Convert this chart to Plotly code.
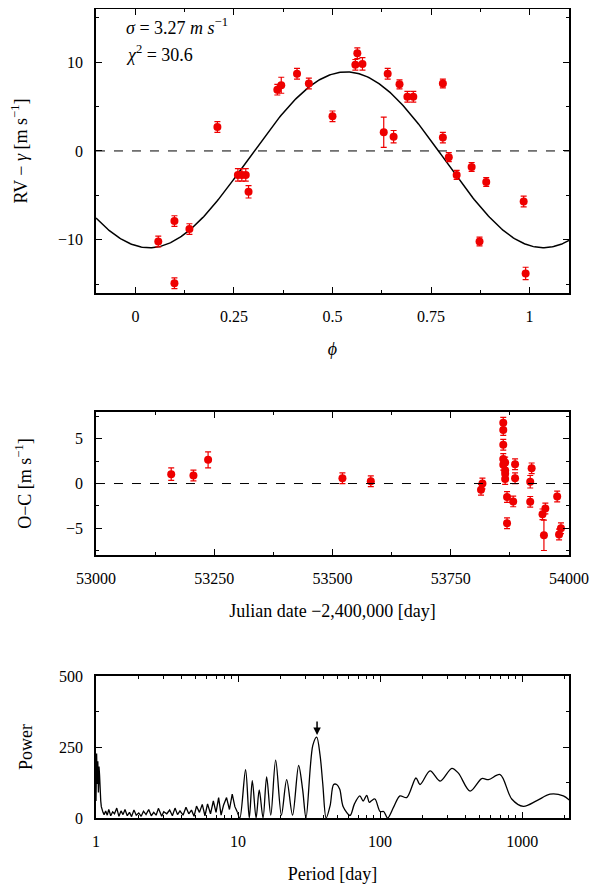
import numpy as np
import plotly.graph_objects as go

# ---- top panel data: phase, RV-gamma, error
phase = [0.058,0.099,0.099,0.137,0.208,0.26,0.27,0.28,0.287,0.36,0.37,0.41,0.44,0.50,
         0.558,0.563,0.576,0.63,0.64,0.655,0.67,0.69,0.705,0.78,0.78,0.795,0.815,0.853,
         0.873,0.89,0.985,0.99]
rv = [-10.2,-14.9,-7.9,-8.8,2.7,-2.7,-2.7,-2.7,-4.6,6.9,7.4,8.7,7.6,3.9,
      9.7,11.0,9.8,2.1,8.7,1.6,7.5,6.1,6.1,7.6,1.5,-0.7,-2.7,-1.8,
      -10.2,-3.5,-5.7,-13.8]
rv_err = [0.6,0.6,0.6,0.6,0.6,0.7,0.7,0.7,0.7,0.6,0.9,0.6,0.6,0.6,
          0.6,0.6,0.7,1.7,0.6,0.7,0.5,0.6,0.6,0.5,0.6,0.5,0.5,0.5,
          0.5,0.5,0.6,0.7]
model_amp = 9.9
model_offset = -1.0
model_phase_min = 0.035

# ---- middle panel data: JD-2400000, O-C, error
jd = [53159,53206,53237,53521,53581,53814,53817,
      53861,53861,53861,53861,53861,53865,53865,53865,53865,53869,53869,
      53882,53886,53886,53918,53918,53921,53944,53947,53950,53975,53979,53983]
oc = [1.05,0.9,2.65,0.6,0.25,-0.7,0.0,
      6.8,6.0,4.35,2.75,2.1,2.35,1.45,1.1,0.5,-1.5,-4.45,
      -2.0,2.15,0.6,-2.05,0.2,1.7,-3.45,-5.8,-2.8,-1.45,-5.7,-5.0]
oc_err = [0.7,0.6,0.9,0.6,0.6,0.6,0.6,
          0.6,0.6,0.6,0.6,0.6,0.6,0.6,0.6,0.6,0.6,0.6,
          0.6,0.6,0.6,0.6,0.7,0.6,0.6,1.7,0.6,0.6,0.6,0.6]

# ---- bottom panel: periodogram, noisy short-period part (rows of 10)
period_short = [1.00,1.01,1.02,1.03,1.04,1.05,1.06,1.07,1.08,1.09,
                1.10,1.12,1.14,1.17,1.20,1.23,1.27,1.31,1.35,1.40,
                1.45,1.50,1.55,1.60,1.66,1.72,1.78,1.85,1.92,2.00,
                2.08,2.16,2.25,2.35,2.45,2.55,2.65,2.75,2.90,3.00,
                3.15,3.30,3.45,3.60,3.75,3.90,4.10,4.30,4.50,4.70,
                4.90,5.10,5.35,5.60,5.85,6.10,6.40,6.70,7.00,7.30,
                7.60,7.90,8.30,8.70,9.10,9.50,9.90]
power_short = [60,227,120,200,90,181,150,80,60,40,
               30,20,12,25,10,30,8,22,15,35,
               6,25,12,30,8,20,5,28,10,18,
               6,24,12,30,8,20,10,34,6,22,
               15,28,8,35,12,25,10,38,15,28,
               6,42,20,48,8,50,15,60,20,72,
               10,45,72,30,84,40,20]
# smoother long-period part
period_long = [10.3,11.3,12.0,12.6,13.4,14.1,15.0,15.9,17.0,18.4,
               20.2,22.0,24.2,26.7,28.5,30.1,33.6,35.8,37.8,39.5,
               41.7,44.5,47.1,49.5,52.0,55.0,61.5,66.0,72.0,76.0,
               80.5,84.0,87.0,92.0,100,106,113,125,138,154,
               179,191,225,265,320,356,430,520,580,700,
               845,1020,1270,1570,1950,2150]
power_long = [0,170,0,132,0,99,0,145,10,204,
              10,135,10,185,100,0,256,285,221,120,
              0,44,118,118,101,40,9,50,78,60,
              80,55,61,67,23,23,0,40,78,72,
              141,118,166,130,175,158,95,139,135,153,
              67,41,61,84,78,63]
peak_period = 36

red = "#ee0000"
ff = "Liberation Serif, DejaVu Serif, serif"

fig = go.Figure()

phi = np.linspace(-0.1, 1.1, 400)
model = model_offset - model_amp*np.cos(2*np.pi*(phi - model_phase_min))
fig.add_trace(go.Scatter(x=phi, y=model, mode="lines", line=dict(color="black", width=1.5),
                         xaxis="x", yaxis="y", hoverinfo="skip"))
fig.add_trace(go.Scatter(x=phase, y=rv, mode="markers", marker=dict(color=red, size=8),
                         error_y=dict(type="data", array=rv_err, color=red, thickness=1.2, width=3),
                         xaxis="x", yaxis="y"))
fig.add_trace(go.Scatter(x=jd, y=oc, mode="markers", marker=dict(color=red, size=8),
                         error_y=dict(type="data", array=oc_err, color=red, thickness=1.2, width=3),
                         xaxis="x2", yaxis="y2"))
fig.add_trace(go.Scatter(x=period_short, y=power_short, mode="lines",
                         line=dict(color="black", width=1.3), xaxis="x3", yaxis="y3"))
fig.add_trace(go.Scatter(x=[period_short[-1]] + period_long, y=[power_short[-1]] + power_long,
                         mode="lines", line=dict(color="black", width=1.3, shape="spline", smoothing=0.9),
                         xaxis="x3", yaxis="y3"))

def ax(**kw):
    d = dict(showline=True, linecolor="black", linewidth=1.5, mirror="allticks",
             ticks="inside", ticklen=6, tickcolor="black", showgrid=False, zeroline=False,
             automargin=False, ticklabelstandoff=8,
             tickfont=dict(family=ff, size=16, color="black"))
    d.update(kw)
    return d

def mn(**kw):
    d = dict(ticks="inside", ticklen=3, tickcolor="black", showgrid=False)
    d.update(kw)
    return d

def tt(text, standoff=18):
    return dict(text=text, standoff=standoff, font=dict(family=ff, size=18, color="black"))

xdom = [0.1474, 0.9397]
fig.update_layout(
    width=597, height=892, showlegend=False, plot_bgcolor="white", paper_bgcolor="white",
    margin=dict(l=0, r=0, t=0, b=0, autoexpand=False),
    font=dict(family=ff, size=16, color="black"),
    xaxis=ax(domain=xdom, anchor="y", range=[-0.1, 1.1],
             tickvals=[0, 0.25, 0.5, 0.75, 1], ticktext=["0", "0.25", "0.5", "0.75", "1"],
             minor=mn(dtick=0.125, tick0=0), title=tt("<i>ϕ</i>")),
    yaxis=ax(domain=[0.6805, 0.999], anchor="x", range=[-16, 16],
             tickvals=[-10, 0, 10], ticktext=["−10", "0", "10"], minor=mn(dtick=5, tick0=0),
             title=tt("RV − <i>γ</i> [m s<sup>−1</sup>]", 30)),
    xaxis2=ax(domain=xdom, anchor="y2", range=[53000, 54000],
              tickvals=[53000, 53250, 53500, 53750, 54000],
              ticktext=["53000", "53250", "53500", "53750", "54000"],
              minor=mn(dtick=125, tick0=53000), title=tt("Julian date −2,400,000 [day]")),
    yaxis2=ax(domain=[0.3868, 0.547], anchor="x2", range=[-8, 8],
              tickvals=[-5, 0, 5], ticktext=["−5", "0", "5"], minor=mn(dtick=2.5, tick0=0),
              title=tt("O−C [m s<sup>−1</sup>]", 30)),
    xaxis3=ax(domain=xdom, anchor="y3", type="log", range=[0, 3.33],
              tickvals=[1, 10, 100, 1000], ticktext=["1", "10", "100", "1000"],
              minor=mn(tickvals=[m*10**e for e in range(0, 4) for m in range(2, 10)]),
              title=tt("Period [day]")),
    yaxis3=ax(domain=[0.0919, 0.2511], anchor="x3", range=[0, 500],
              tickvals=[0, 250, 500], minor=mn(dtick=125, tick0=0), title=tt("Power", 22)),
)

fig.add_shape(type="line", xref="x", yref="y", x0=-0.1, x1=1.1, y0=0, y1=0,
              line=dict(color="black", width=1, dash="dash"))
fig.add_shape(type="line", xref="x2", yref="y2", x0=53000, x1=54000, y0=0, y1=0,
              line=dict(color="black", width=1, dash="dash"))

fig.add_annotation(xref="x", yref="y", x=-0.03, y=14.0, xanchor="left", showarrow=False,
                   text="<i>σ</i> = 3.27 <i>m s</i><sup>−1</sup>", font=dict(family=ff, size=18))
fig.add_annotation(xref="x", yref="y", x=-0.03, y=11.0, xanchor="left", showarrow=False,
                   text="<i>χ</i><sup>2</sup> = 30.6", font=dict(family=ff, size=18))
fig.add_annotation(xref="x3", yref="y3", x=np.log10(peak_period), y=292,
                   ax=np.log10(peak_period), ay=345, axref="x3", ayref="y3",
                   showarrow=True, arrowhead=2, arrowsize=1, arrowwidth=1.5, arrowcolor="black", text="")

fig.write_html("out.html")
